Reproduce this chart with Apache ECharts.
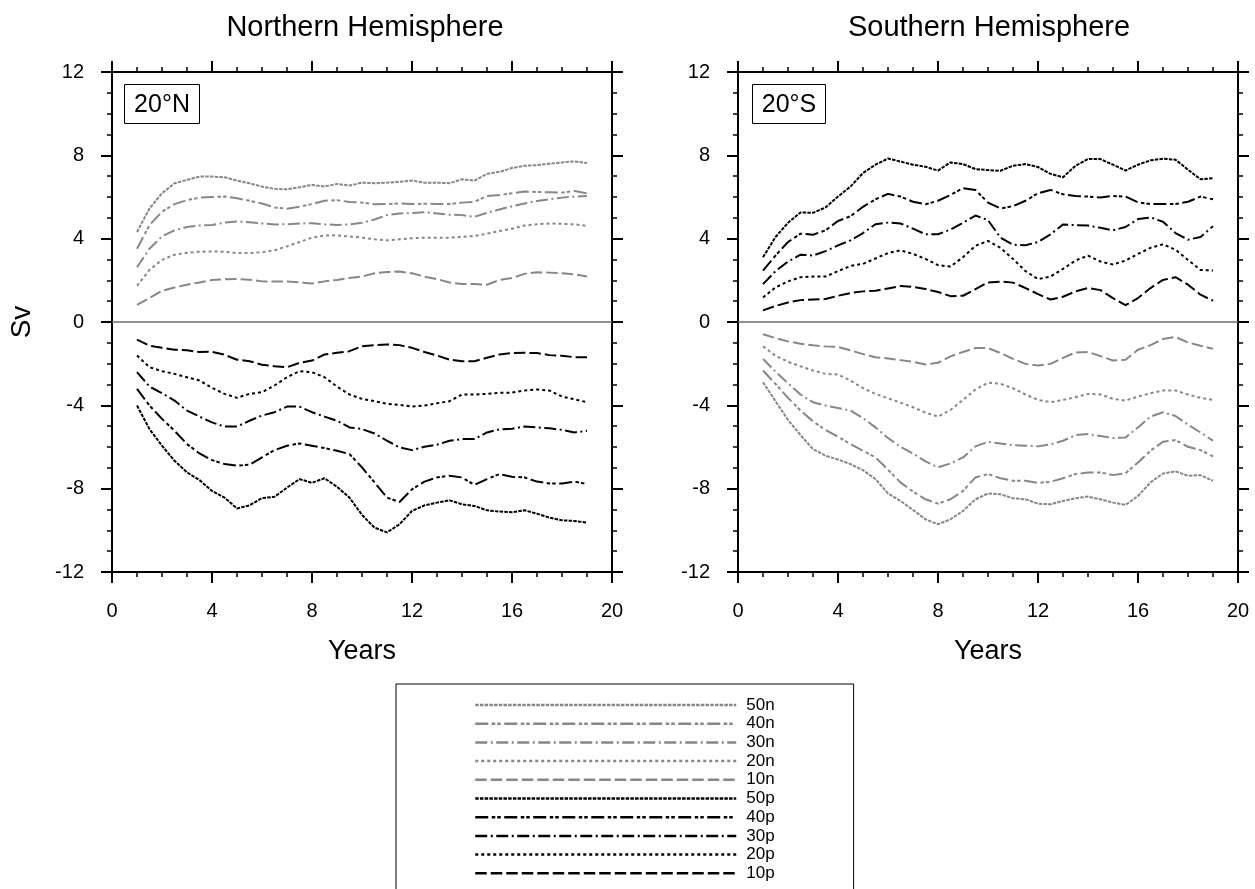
<!DOCTYPE html>
<html>
<head>
<meta charset="utf-8">
<title>Overturning transport, 20°N and 20°S</title>
<script src="https://cdn.jsdelivr.net/npm/echarts@6/dist/echarts.min.js"></script>
<style>
  html, body { margin: 0; padding: 0; background: #fff; }
  #chart { width: 1255px; height: 889px; }
</style>
</head>
<body>
<div id="chart"></div>
<script>
// Sample times (years)
const years = [1, 1.5, 2, 2.5, 3, 3.5, 4, 4.5, 5, 5.5, 6, 6.5, 7, 7.5, 8, 8.5, 9, 9.5, 10,
  10.5, 11, 11.5, 12, 12.5, 13, 13.5, 14, 14.5, 15, 15.5, 16, 16.5, 17, 17.5, 18, 18.5, 19];

const xTicks = [0, 4, 8, 12, 16, 20];
const yTicks = [-12, -8, -4, 0, 4, 8, 12];

const seriesNames = ['50n', '40n', '30n', '20n', '10n', '50p', '40p', '30p', '20p', '10p'];

// Northern Hemisphere, 20°N (Sv)
const nh50n = [4.32, 5.45, 6.18, 6.66, 6.82, 6.98, 6.98, 6.95, 6.79, 6.66, 6.5, 6.39, 6.37, 6.47, 6.58, 6.5, 6.63, 6.55, 6.69,
  6.66, 6.69, 6.73, 6.79, 6.69, 6.69, 6.66, 6.85, 6.79, 7.11, 7.21, 7.39, 7.5, 7.53, 7.6, 7.66, 7.71, 7.63];
const nh40n = [3.52, 4.65, 5.29, 5.66, 5.85, 5.97, 6.0, 6.02, 5.94, 5.82, 5.69, 5.5, 5.44, 5.53, 5.66, 5.82, 5.85, 5.76, 5.73,
  5.65, 5.66, 5.69, 5.66, 5.68, 5.66, 5.66, 5.73, 5.77, 6.05, 6.1, 6.18, 6.26, 6.24, 6.23, 6.21, 6.29, 6.18];
const nh30n = [2.63, 3.52, 4.11, 4.4, 4.56, 4.63, 4.66, 4.77, 4.82, 4.79, 4.73, 4.68, 4.69, 4.73, 4.74, 4.69, 4.66, 4.69, 4.76,
  4.92, 5.13, 5.21, 5.23, 5.27, 5.21, 5.15, 5.13, 5.05, 5.24, 5.4, 5.56, 5.69, 5.81, 5.89, 5.97, 6.02, 6.05];
const nh20n = [1.74, 2.5, 2.98, 3.23, 3.32, 3.37, 3.39, 3.37, 3.31, 3.31, 3.35, 3.44, 3.63, 3.84, 4.05, 4.15, 4.16, 4.11, 4.05,
  3.97, 3.92, 3.97, 4.02, 4.05, 4.05, 4.05, 4.08, 4.13, 4.24, 4.37, 4.48, 4.63, 4.69, 4.73, 4.71, 4.69, 4.61];
const nh10n = [0.82, 1.15, 1.5, 1.66, 1.79, 1.9, 2.02, 2.05, 2.06, 2.03, 1.95, 1.94, 1.94, 1.9, 1.85, 1.95, 2.02, 2.11, 2.18,
  2.34, 2.4, 2.42, 2.34, 2.18, 2.06, 1.9, 1.82, 1.82, 1.79, 2.02, 2.11, 2.31, 2.39, 2.37, 2.34, 2.29, 2.18];
const nh50p = [-4.01, -5.14, -5.94, -6.66, -7.22, -7.59, -8.11, -8.43, -8.95, -8.8, -8.45, -8.39, -7.95, -7.54, -7.72, -7.5, -7.91, -8.43, -9.26,
  -9.87, -10.1, -9.71, -9.07, -8.8, -8.67, -8.56, -8.75, -8.83, -9.04, -9.1, -9.13, -9.04, -9.2, -9.39, -9.52, -9.55, -9.63];
const nh40p = [-3.21, -4.01, -4.65, -5.22, -5.86, -6.31, -6.63, -6.82, -6.9, -6.85, -6.5, -6.15, -5.94, -5.83, -5.94, -6.05, -6.18, -6.34, -6.98,
  -7.7, -8.43, -8.64, -8.03, -7.66, -7.46, -7.38, -7.46, -7.82, -7.54, -7.3, -7.43, -7.46, -7.66, -7.75, -7.75, -7.66, -7.78];
const nh30p = [-2.41, -3.1, -3.42, -3.77, -4.25, -4.54, -4.82, -5.02, -5.02, -4.74, -4.49, -4.33, -4.06, -4.06, -4.33, -4.54, -4.74, -5.06, -5.14,
  -5.35, -5.7, -6.02, -6.15, -5.99, -5.89, -5.7, -5.62, -5.62, -5.3, -5.15, -5.12, -5.02, -5.06, -5.1, -5.18, -5.3, -5.22];
const nh20p = [-1.61, -2.17, -2.36, -2.49, -2.65, -2.81, -3.16, -3.45, -3.64, -3.45, -3.37, -3.05, -2.65, -2.36, -2.41, -2.65, -3.1, -3.48, -3.69,
  -3.8, -3.93, -3.98, -4.06, -4.01, -3.9, -3.8, -3.48, -3.48, -3.45, -3.4, -3.39, -3.29, -3.24, -3.29, -3.58, -3.71, -3.85];
const nh10p = [-0.85, -1.14, -1.24, -1.33, -1.36, -1.44, -1.43, -1.57, -1.81, -1.88, -2.05, -2.12, -2.17, -1.96, -1.85, -1.56, -1.48, -1.4, -1.16,
  -1.11, -1.08, -1.11, -1.24, -1.44, -1.61, -1.81, -1.88, -1.88, -1.72, -1.56, -1.49, -1.48, -1.49, -1.59, -1.62, -1.69, -1.69];

// Southern Hemisphere, 20°S (Sv)
const sh50p = [3.11, 4.08, 4.76, 5.26, 5.24, 5.5, 6.02, 6.5, 7.15, 7.55, 7.85, 7.7, 7.55, 7.45, 7.27, 7.66, 7.58, 7.34, 7.29,
  7.26, 7.5, 7.58, 7.44, 7.11, 6.95, 7.5, 7.82, 7.82, 7.55, 7.27, 7.55, 7.76, 7.84, 7.79, 7.31, 6.85, 6.9];
const sh40p = [2.47, 3.19, 3.84, 4.24, 4.19, 4.4, 4.85, 5.08, 5.53, 5.89, 6.15, 6.02, 5.77, 5.65, 5.82, 6.1, 6.42, 6.34, 5.73,
  5.45, 5.56, 5.82, 6.18, 6.34, 6.13, 6.05, 6.02, 5.98, 6.05, 6.02, 5.74, 5.66, 5.66, 5.66, 5.77, 6.02, 5.89];
const sh30p = [1.82, 2.44, 2.9, 3.23, 3.19, 3.4, 3.68, 3.92, 4.27, 4.69, 4.77, 4.73, 4.48, 4.21, 4.21, 4.44, 4.76, 5.11, 4.89,
  4.05, 3.71, 3.68, 3.84, 4.21, 4.68, 4.65, 4.63, 4.52, 4.4, 4.56, 4.94, 5.02, 4.81, 4.27, 3.95, 4.08, 4.6];
const sh20p = [1.18, 1.66, 1.95, 2.15, 2.18, 2.18, 2.44, 2.69, 2.79, 3.05, 3.31, 3.44, 3.27, 3.03, 2.73, 2.66, 3.11, 3.66, 3.89,
  3.56, 3.03, 2.44, 2.06, 2.18, 2.55, 2.95, 3.19, 2.9, 2.76, 2.95, 3.27, 3.56, 3.73, 3.47, 2.98, 2.5, 2.47];
const sh10p = [0.56, 0.77, 0.94, 1.05, 1.08, 1.1, 1.26, 1.39, 1.47, 1.5, 1.61, 1.73, 1.69, 1.58, 1.44, 1.24, 1.26, 1.58, 1.9,
  1.94, 1.89, 1.63, 1.34, 1.08, 1.21, 1.47, 1.63, 1.53, 1.15, 0.81, 1.15, 1.63, 2.02, 2.15, 1.79, 1.31, 1.02];
const sh10n = [-0.59, -0.77, -0.93, -1.04, -1.12, -1.17, -1.2, -1.36, -1.54, -1.69, -1.75, -1.83, -1.91, -2.04, -1.96, -1.65, -1.44, -1.25, -1.25,
  -1.49, -1.77, -2.01, -2.09, -2.01, -1.72, -1.46, -1.44, -1.64, -1.85, -1.81, -1.33, -1.11, -0.82, -0.72, -0.98, -1.14, -1.28];
const sh20n = [-1.17, -1.62, -1.91, -2.13, -2.33, -2.49, -2.52, -2.81, -3.18, -3.45, -3.66, -3.87, -4.09, -4.35, -4.54, -4.22, -3.74, -3.24, -2.91,
  -2.97, -3.18, -3.48, -3.74, -3.85, -3.74, -3.61, -3.45, -3.48, -3.69, -3.77, -3.58, -3.42, -3.29, -3.29, -3.48, -3.64, -3.74];
const sh30n = [-1.77, -2.38, -2.94, -3.48, -3.85, -4.01, -4.13, -4.25, -4.61, -5.06, -5.57, -5.99, -6.31, -6.69, -6.98, -6.79, -6.5, -5.97, -5.75,
  -5.83, -5.91, -5.94, -5.97, -5.87, -5.7, -5.43, -5.38, -5.47, -5.57, -5.54, -5.06, -4.54, -4.33, -4.51, -4.93, -5.3, -5.7];
const sh40n = [-2.33, -2.97, -3.64, -4.25, -4.77, -5.18, -5.51, -5.86, -6.18, -6.5, -7.09, -7.7, -8.14, -8.51, -8.72, -8.51, -8.11, -7.46, -7.3,
  -7.5, -7.62, -7.62, -7.72, -7.67, -7.5, -7.3, -7.22, -7.22, -7.35, -7.26, -6.74, -6.18, -5.75, -5.67, -5.99, -6.15, -6.45];
const sh50n = [-2.89, -3.8, -4.7, -5.43, -6.1, -6.42, -6.6, -6.82, -7.11, -7.54, -8.23, -8.59, -9.02, -9.47, -9.71, -9.47, -9.07, -8.51, -8.23,
  -8.27, -8.46, -8.51, -8.72, -8.75, -8.59, -8.46, -8.38, -8.51, -8.67, -8.78, -8.35, -7.7, -7.27, -7.17, -7.38, -7.35, -7.62];

// ---- styling ----
const FONT = '"Liberation Sans", Arial, Helvetica, sans-serif';
const GRAY = '#878787';
const BLACK = '#000000';

// dash pattern per depth band, shared by the n (gray) and p (black) families
const dashByLevel = {
  '50': [3.5, 1.2],
  '40': [13, 3.5, 3.5, 2, 3.5, 3.5],
  '30': [12, 3.5, 2, 3.5],
  '20': [3, 3],
  '10': [11.5, 4]
};

const nhData = { '50n': nh50n, '40n': nh40n, '30n': nh30n, '20n': nh20n, '10n': nh10n,
                 '50p': nh50p, '40p': nh40p, '30p': nh30p, '20p': nh20p, '10p': nh10p };
const shData = { '50n': sh50n, '40n': sh40n, '30n': sh30n, '20n': sh20n, '10n': sh10n,
                 '50p': sh50p, '40p': sh40p, '30p': sh30p, '20p': sh20p, '10p': sh10p };

const GRID_TOP = 72, GRID_H = 500, GRID_W = 500;
const grids = [
  { left: 112, top: GRID_TOP, width: GRID_W, height: GRID_H },
  { left: 738, top: GRID_TOP, width: GRID_W, height: GRID_H }
];

function xAxisFor(gridIndex, position, withLabels) {
  return {
    type: 'value', gridIndex, position,
    min: xTicks[0], max: xTicks[xTicks.length - 1], interval: xTicks[1] - xTicks[0],
    axisLine: { show: true, onZero: false, lineStyle: { color: BLACK, width: 2 } },
    axisTick: { show: true, inside: false, length: 11, lineStyle: { color: BLACK, width: 2 } },
    minorTick: { show: true, splitNumber: 4, length: 5, lineStyle: { color: BLACK, width: 1.5 } },
    splitLine: { show: false },
    axisLabel: { show: withLabels, margin: 29, fontSize: 20, color: BLACK, fontFamily: FONT },
    name: withLabels ? 'Years' : '',
    nameLocation: 'middle', nameGap: 66,
    nameTextStyle: { fontSize: 27, color: BLACK, fontFamily: FONT }
  };
}

function yAxisFor(gridIndex, position, withLabels, name) {
  return {
    type: 'value', gridIndex, position,
    min: yTicks[0], max: yTicks[yTicks.length - 1], interval: yTicks[1] - yTicks[0],
    axisLine: { show: true, onZero: false, lineStyle: { color: BLACK, width: 2 } },
    axisTick: { show: true, inside: false, length: 11, lineStyle: { color: BLACK, width: 2 } },
    minorTick: { show: true, splitNumber: 4, length: 5, lineStyle: { color: BLACK, width: 1.5 } },
    splitLine: { show: false },
    axisLabel: { show: withLabels, margin: 28, fontSize: 20, color: BLACK, fontFamily: FONT },
    name: name || '',
    nameLocation: 'middle', nameGap: 76, nameRotate: 90,
    nameTextStyle: { fontSize: 28, color: BLACK, fontFamily: FONT }
  };
}

const xAxes = [
  xAxisFor(0, 'bottom', true), xAxisFor(0, 'top', false),
  xAxisFor(1, 'bottom', true), xAxisFor(1, 'top', false)
];
const yAxes = [
  yAxisFor(0, 'left', true, 'Sv'), yAxisFor(0, 'right', false),
  yAxisFor(1, 'left', true), yAxisFor(1, 'right', false)
];

function buildSeries(dataByName, axisIdx) {
  return seriesNames.map((name, k) => {
    const isN = name.endsWith('n');
    const color = isN ? GRAY : BLACK;
    const s = {
      name, type: 'line',
      xAxisIndex: axisIdx, yAxisIndex: axisIdx,
      data: years.map((x, i) => [x, dataByName[name][i]]),
      symbol: 'none', showSymbol: false, smooth: false,
      lineStyle: { color, width: 2, type: dashByLevel[name.slice(0, 2)], cap: 'butt', join: 'round' },
      itemStyle: { color },
      emphasis: { disabled: true },
      animation: false
    };
    if (k === 0) {
      // zero reference line across the panel
      s.markLine = {
        silent: true, symbol: 'none', label: { show: false },
        lineStyle: { color: '#6e6e6e', width: 1.5, type: 'solid' },
        data: [{ yAxis: 0 }]
      };
    }
    return s;
  });
}

const series = [].concat(buildSeries(nhData, 0), buildSeries(shData, 2));

function insetLabel(x, y, w, h, text) {
  return {
    type: 'group', left: x, top: y,
    children: [
      { type: 'rect', shape: { x: 0.5, y: 0.5, width: w, height: h },
        style: { fill: '#fff', stroke: BLACK, lineWidth: 1 } },
      { type: 'text', x: w / 2 + 0.5, y: h / 2 + 1.5,
        style: { text, fill: BLACK, font: '25px ' + FONT, textAlign: 'center', textVerticalAlign: 'middle' } }
    ]
  };
}

const option = {
  backgroundColor: '#fff',
  animation: false,
  grid: grids,
  xAxis: xAxes,
  yAxis: yAxes,
  series,
  legend: {
    data: seriesNames,
    orient: 'vertical',
    left: 396, top: 684, height: 260,
    padding: [12.5, 79, 30, 78],
    itemWidth: 261, itemHeight: 14, itemGap: 1.7,
    selectedMode: false,
    borderColor: BLACK, borderWidth: 1,
    backgroundColor: '#fff',
    // line-only keys: the marker drawn at the middle of each key is hidden
    itemStyle: { opacity: 0 },
    lineStyle: { width: 2.5, opacity: 1 },
    textStyle: { fontSize: 17, lineHeight: 14, color: BLACK, fontFamily: FONT, padding: [0, 0, 0, 5] }
  },
  graphic: [
    { type: 'text', x: 365, y: 28,
      style: { text: 'Northern Hemisphere', fill: BLACK, font: '29px ' + FONT, textAlign: 'center', textVerticalAlign: 'middle' } },
    { type: 'text', x: 989, y: 28,
      style: { text: 'Southern Hemisphere', fill: BLACK, font: '29px ' + FONT, textAlign: 'center', textVerticalAlign: 'middle' } },
    insetLabel(124, 84, 75, 39, '20°N'),
    insetLabel(752, 84, 73, 39, '20°S')
  ]
};

const chart = echarts.init(document.getElementById('chart'), null, { renderer: 'canvas' });
chart.setOption(option);
</script>
</body>
</html>
